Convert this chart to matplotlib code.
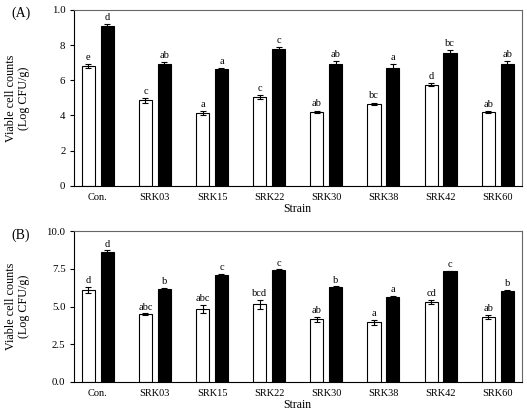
import matplotlib.pyplot as plt
import numpy as np

plt.rcParams['font.family'] = ['Liberation Serif', 'DejaVu Serif']

strains = ['Con.', 'SRK03', 'SRK15', 'SRK22', 'SRK30', 'SRK38', 'SRK42', 'SRK60']

# panel A
a_white = [6.8, 4.85, 4.15, 5.05, 4.2, 4.65, 5.75, 4.2]
a_white_err = [0.12, 0.12, 0.1, 0.1, 0.08, 0.08, 0.08, 0.07]
a_black = [9.1, 6.95, 6.65, 7.8, 6.95, 6.7, 7.55, 6.9]
a_black_err = [0.1, 0.07, 0.06, 0.08, 0.15, 0.2, 0.18, 0.18]
a_white_lab = ['e', 'c', 'a', 'c', 'ab', 'bc', 'd', 'ab']
a_black_lab = ['d', 'ab', 'a', 'c', 'ab', 'a', 'bc', 'ab']

# panel B
b_white = [6.1, 4.5, 4.85, 5.15, 4.15, 3.95, 5.3, 4.3]
b_white_err = [0.2, 0.05, 0.25, 0.3, 0.18, 0.15, 0.12, 0.15]
b_black = [8.6, 6.15, 7.1, 7.42, 6.28, 5.62, 7.33, 6.0]
b_black_err = [0.12, 0.06, 0.05, 0.04, 0.05, 0.06, 0.04, 0.1]
b_white_lab = ['d', 'abc', 'abc', 'bcd', 'ab', 'a', 'cd', 'ab']
b_black_lab = ['d', 'b', 'c', 'c', 'b', 'a', 'c', 'b']

fig = plt.figure(figsize=(5.27, 4.12), dpi=100)
axA = fig.add_axes([0.140, 0.549, 0.850, 0.427])
axB = fig.add_axes([0.140, 0.073, 0.850, 0.366])

x = np.arange(len(strains))
w = 0.23
off = 0.165


def panel(ax, wv, we, bv, be, wl, bl, ymax):
    ax.bar(x - off, wv, w, color='white', edgecolor='black', linewidth=0.8,
           yerr=we, error_kw=dict(ecolor='black', elinewidth=0.8, capsize=2, capthick=0.8))
    ax.bar(x + off, bv, w, color='black', edgecolor='black', linewidth=0.8,
           yerr=be, error_kw=dict(ecolor='black', elinewidth=0.8, capsize=2, capthick=0.8))
    for i in range(len(strains)):
        ax.text(x[i] - off, wv[i] + we[i] + ymax * 0.012, wl[i], ha='center', va='bottom', fontsize=7.5)
        ax.text(x[i] + off, bv[i] + be[i] + ymax * 0.012, bl[i], ha='center', va='bottom', fontsize=7.5)
    ax.set_xlim(-0.42, 7.42)
    ax.set_ylim(0, ymax)
    ax.set_xticks(x)
    ax.set_xticklabels(strains, fontsize=7.5)
    ax.tick_params(axis='x', length=0, pad=5)
    ax.tick_params(axis='y', direction='out', length=3, width=0.8, labelsize=7.8, pad=3)
    for s in ['top', 'right']:
        ax.spines[s].set_color('#666666')
        ax.spines[s].set_linewidth(0.8)
    for s in ['left', 'bottom']:
        ax.spines[s].set_linewidth(0.8)
    ax.set_xlabel('Strain', fontsize=8.5, labelpad=1)
    ax.set_ylabel('Viable cell counts\n(Log CFU/g)', fontsize=8.7, linespacing=1.1)
    ax.yaxis.set_label_coords(-0.098, 0.5)


panel(axA, a_white, a_white_err, a_black, a_black_err, a_white_lab, a_black_lab, 10)
axA.set_yticks([0, 2, 4, 6, 8, 10])
axA.set_yticklabels(['0', '2', '4', '6', '8', '1.0'])

panel(axB, b_white, b_white_err, b_black, b_black_err, b_white_lab, b_black_lab, 10)
axB.set_yticks([0, 2.5, 5, 7.5, 10])
axB.set_yticklabels(['0.0', '2.5', '5.0', '7.5', '10.0'])

fig.text(0.021, 0.968, '(A)', fontsize=10, va='center', ha='left')
fig.text(0.021, 0.430, '(B)', fontsize=10, va='center', ha='left')

fig.savefig('out.png', dpi=100)
